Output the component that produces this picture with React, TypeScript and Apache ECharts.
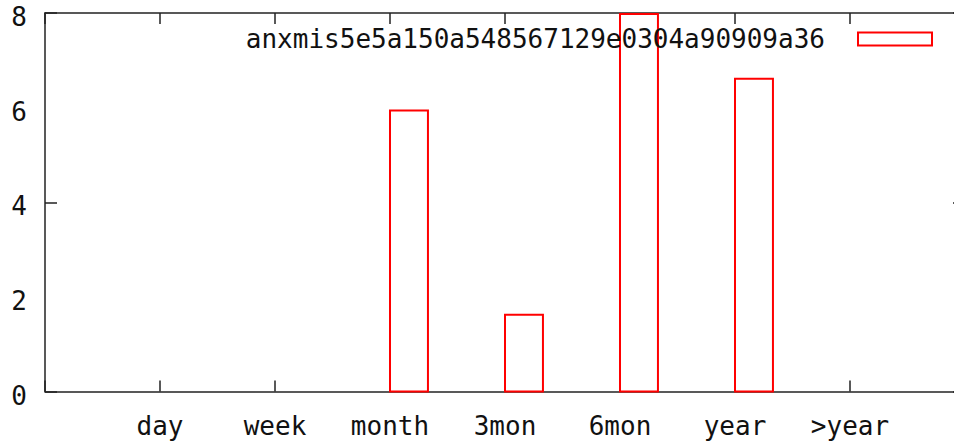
import React, { useEffect, useRef } from "react";
import * as echarts from "echarts";

const categories = ["day", "week", "month", "3mon", "6mon", "year", ">year"];
const seriesName = "anxmis5e5a150a548567129e0304a90909a36";
const values = [0, 0, 5.94, 1.62, 7.98, 6.61, 0];
const yTicks = [0, 2, 4, 6, 8];

const FONT = "'DejaVu Sans Mono', monospace";
const BOX_WIDTH = 0.33;

export default function App() {
  const ref = useRef<HTMLDivElement>(null);
  useEffect(() => {
    if (!ref.current) return;
    const chart = echarts.init(ref.current, null, { renderer: "svg" });
    const axisLine = { show: true, onZero: false, lineStyle: { color: "#222", width: 1.5 } };
    const tick = (len: number) => ({
      show: true,
      inside: true,
      length: len,
      lineStyle: { color: "#222", width: 1.5 },
    });
    const data = values
      .map((v, i) => [i, v])
      .filter((d) => d[1] > 0);
    chart.setOption({
      animation: false,
      backgroundColor: "#fff",
      grid: {
        left: 45,
        top: 13,
        width: 920,
        height: 378.5,
        containLabel: false,
        outerBoundsMode: "none",
      },
      legend: {
        show: true,
        right: 21,
        top: 26,
        align: "right",
        padding: 0,
        itemWidth: 74,
        itemHeight: 13,
        data: [
          {
            name: seriesName,
            icon: "rect",
            itemStyle: { color: "#fff", borderColor: "#ff0000", borderWidth: 2 },
          },
        ],
        textStyle: {
          fontFamily: FONT,
          fontSize: 26,
          color: "#111",
          padding: [0, 28, 0, 0],
        },
      },
      xAxis: [
        {
          type: "value",
          position: "bottom",
          min: -1,
          max: 7,
          interval: 1,
          splitLine: { show: false },
          axisLine,
          axisTick: tick(11),
          axisLabel: {
            margin: 21,
            fontFamily: FONT,
            fontSize: 26,
            color: "#111",
            formatter: (v: number) =>
              Number.isInteger(v) && v >= 0 && v < categories.length ? categories[v] : "",
          },
        },
        {
          type: "value",
          position: "top",
          min: -1,
          max: 7,
          interval: 1,
          splitLine: { show: false },
          axisLine,
          axisTick: tick(11),
          axisLabel: { show: false },
        },
      ],
      yAxis: [
        {
          type: "value",
          position: "left",
          min: yTicks[0],
          max: yTicks[yTicks.length - 1],
          interval: 2,
          splitLine: { show: false },
          axisLine: { show: false, onZero: false },
          axisTick: { show: false },
          axisLabel: {
            margin: 18,
            fontFamily: FONT,
            fontSize: 26,
            color: "#111",
            verticalAlign: "top",
            lineHeight: 8,
          },
        },
        {
          type: "value",
          position: "left",
          min: 0,
          max: 8,
          interval: 4,
          splitLine: { show: false },
          axisLine,
          axisTick: tick(12),
          axisLabel: { show: false },
        },
        {
          type: "value",
          position: "right",
          min: 0,
          max: 8,
          interval: 4,
          splitLine: { show: false },
          axisLine,
          axisTick: tick(12),
          axisLabel: { show: false },
        },
      ],
      series: [
        {
          name: seriesName,
          type: "custom",
          xAxisIndex: 0,
          yAxisIndex: 0,
          data,
          itemStyle: { color: "#fff", borderColor: "#ff0000", borderWidth: 2 },
          renderItem: (params: any, api: any) => {
            const x = api.value(0);
            const y = api.value(1);
            const p0 = api.coord([x, 0]);
            const p1 = api.coord([x + BOX_WIDTH, y]);
            return {
              type: "rect",
              shape: { x: p0[0], y: p1[1], width: p1[0] - p0[0], height: p0[1] - p1[1] },
              style: { fill: "none", stroke: "#ff0000", lineWidth: 2 },
            };
          },
        },
      ],
    });
    return () => chart.dispose();
  }, []);
  return (
    <div
      ref={ref}
      style={{ position: "absolute", left: 0, top: 0, width: 954, height: 444 }}
    />
  );
}
